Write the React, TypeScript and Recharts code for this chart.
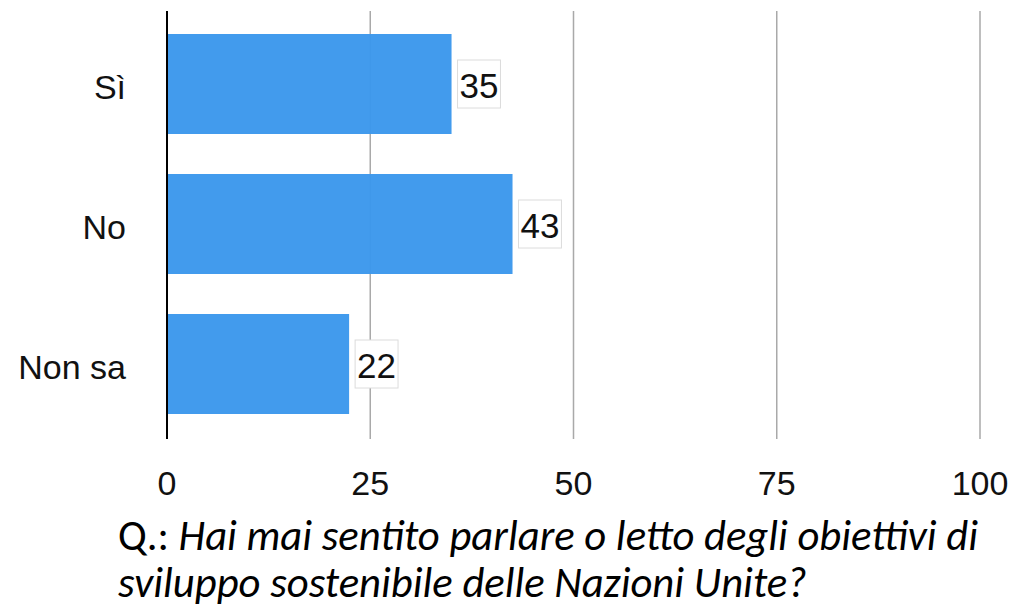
import React from "react";
import { BarChart, Bar, XAxis, YAxis, CartesianGrid, LabelList } from "recharts";

const categories = ["Sì", "No", "Non sa"];
const values = [35.0, 42.5, 22.4];
const xTicks = [0, 25, 50, 75, 100];
const captionPrefix = "Q.: ";
const captionLine1 = "Hai mai sentito parlare o letto degli obiettivi di";
const captionLine2 = "sviluppo sostenibile delle Nazioni Unite?";

const data = categories.map((c, i) => ({ name: c, value: values[i] }));

const FONT = "'Liberation Sans', Arimo, Helvetica, Arial, sans-serif";

const BoxLabel = (props: any) => {
  const { x, y, width, height, value } = props;
  const txt = String(Math.round(Number(value)));
  const fs = 35;
  const tw = txt.length * 0.556 * fs;
  const bx = Number(x) + Number(width) + 6;
  const cy = Number(y) + Number(height) / 2;
  const bw = tw + 4;
  const bh = 48;
  return (
    <g>
      <rect x={bx} y={cy - bh / 2} width={bw} height={bh} fill="#ffffff" stroke="#dcdcdc" strokeWidth={1} />
      <text x={bx + 2} y={cy + 0.358 * fs + 1} fontSize={fs} fontFamily={FONT} fill="#111111">
        {txt}
      </text>
    </g>
  );
};

const YTick = (props: any) => {
  const { x, y, payload } = props;
  const fs = 34;
  return (
    <text x={x} y={Number(y) + 0.358 * fs + 3} textAnchor="end" fontSize={fs} fontFamily={FONT} fill="#111111">
      {payload.value}
    </text>
  );
};

const CAPTION_FS = 42.7;
const lineTop = (baseline: number, lh: number) => baseline - ((lh - 1.2 * CAPTION_FS) / 2 + 0.987 * CAPTION_FS);

export default function App() {
  const lh1 = 46;
  const lh2 = 40;
  const captionStyle: React.CSSProperties = {
    position: "absolute",
    left: 118,
    fontFamily: "Carlito, Lato, sans-serif",
    fontSize: CAPTION_FS,
    color: "#000",
    whiteSpace: "nowrap",
  };
  return (
    <div style={{ position: "absolute", left: 0, top: 0, width: 1016, height: 607, background: "#fff", overflow: "hidden" }}>
      <BarChart
        width={1016}
        height={510}
        data={data}
        layout="vertical"
        margin={{ top: 11, right: 36, left: 0, bottom: 0 }}
      >
        <CartesianGrid horizontal={false} vertical={true} stroke="#a9a9a9" strokeWidth={1.5} />
        <XAxis
          type="number"
          domain={[0, 100]}
          ticks={xTicks}
          axisLine={false}
          tickLine={false}
          tickMargin={26}
          height={71}
          tick={{ fontSize: 34, fontFamily: FONT, fill: "#111111" }}
          interval={0}
        />
        <YAxis
          type="category"
          dataKey="name"
          width={167}
          axisLine={{ stroke: "#000000", strokeWidth: 2 }}
          tickLine={false}
          tickMargin={35}
          padding={{ top: 3, bottom: 5 }}
          tick={<YTick />}
        />
        <Bar dataKey="value" barSize={100} fill="#3a97ec" fillOpacity={0.96} isAnimationActive={false}>
          <LabelList dataKey="value" content={<BoxLabel />} />
        </Bar>
      </BarChart>
      <div style={{ ...captionStyle, top: lineTop(552, lh1), lineHeight: lh1 + "px" }}>
        <span>{captionPrefix}</span>
        <span style={{ fontStyle: "italic" }}>{captionLine1}</span>
      </div>
      <div style={{ ...captionStyle, top: lineTop(599, lh2), lineHeight: lh2 + "px", fontStyle: "italic" }}>
        {captionLine2}
      </div>
    </div>
  );
}
